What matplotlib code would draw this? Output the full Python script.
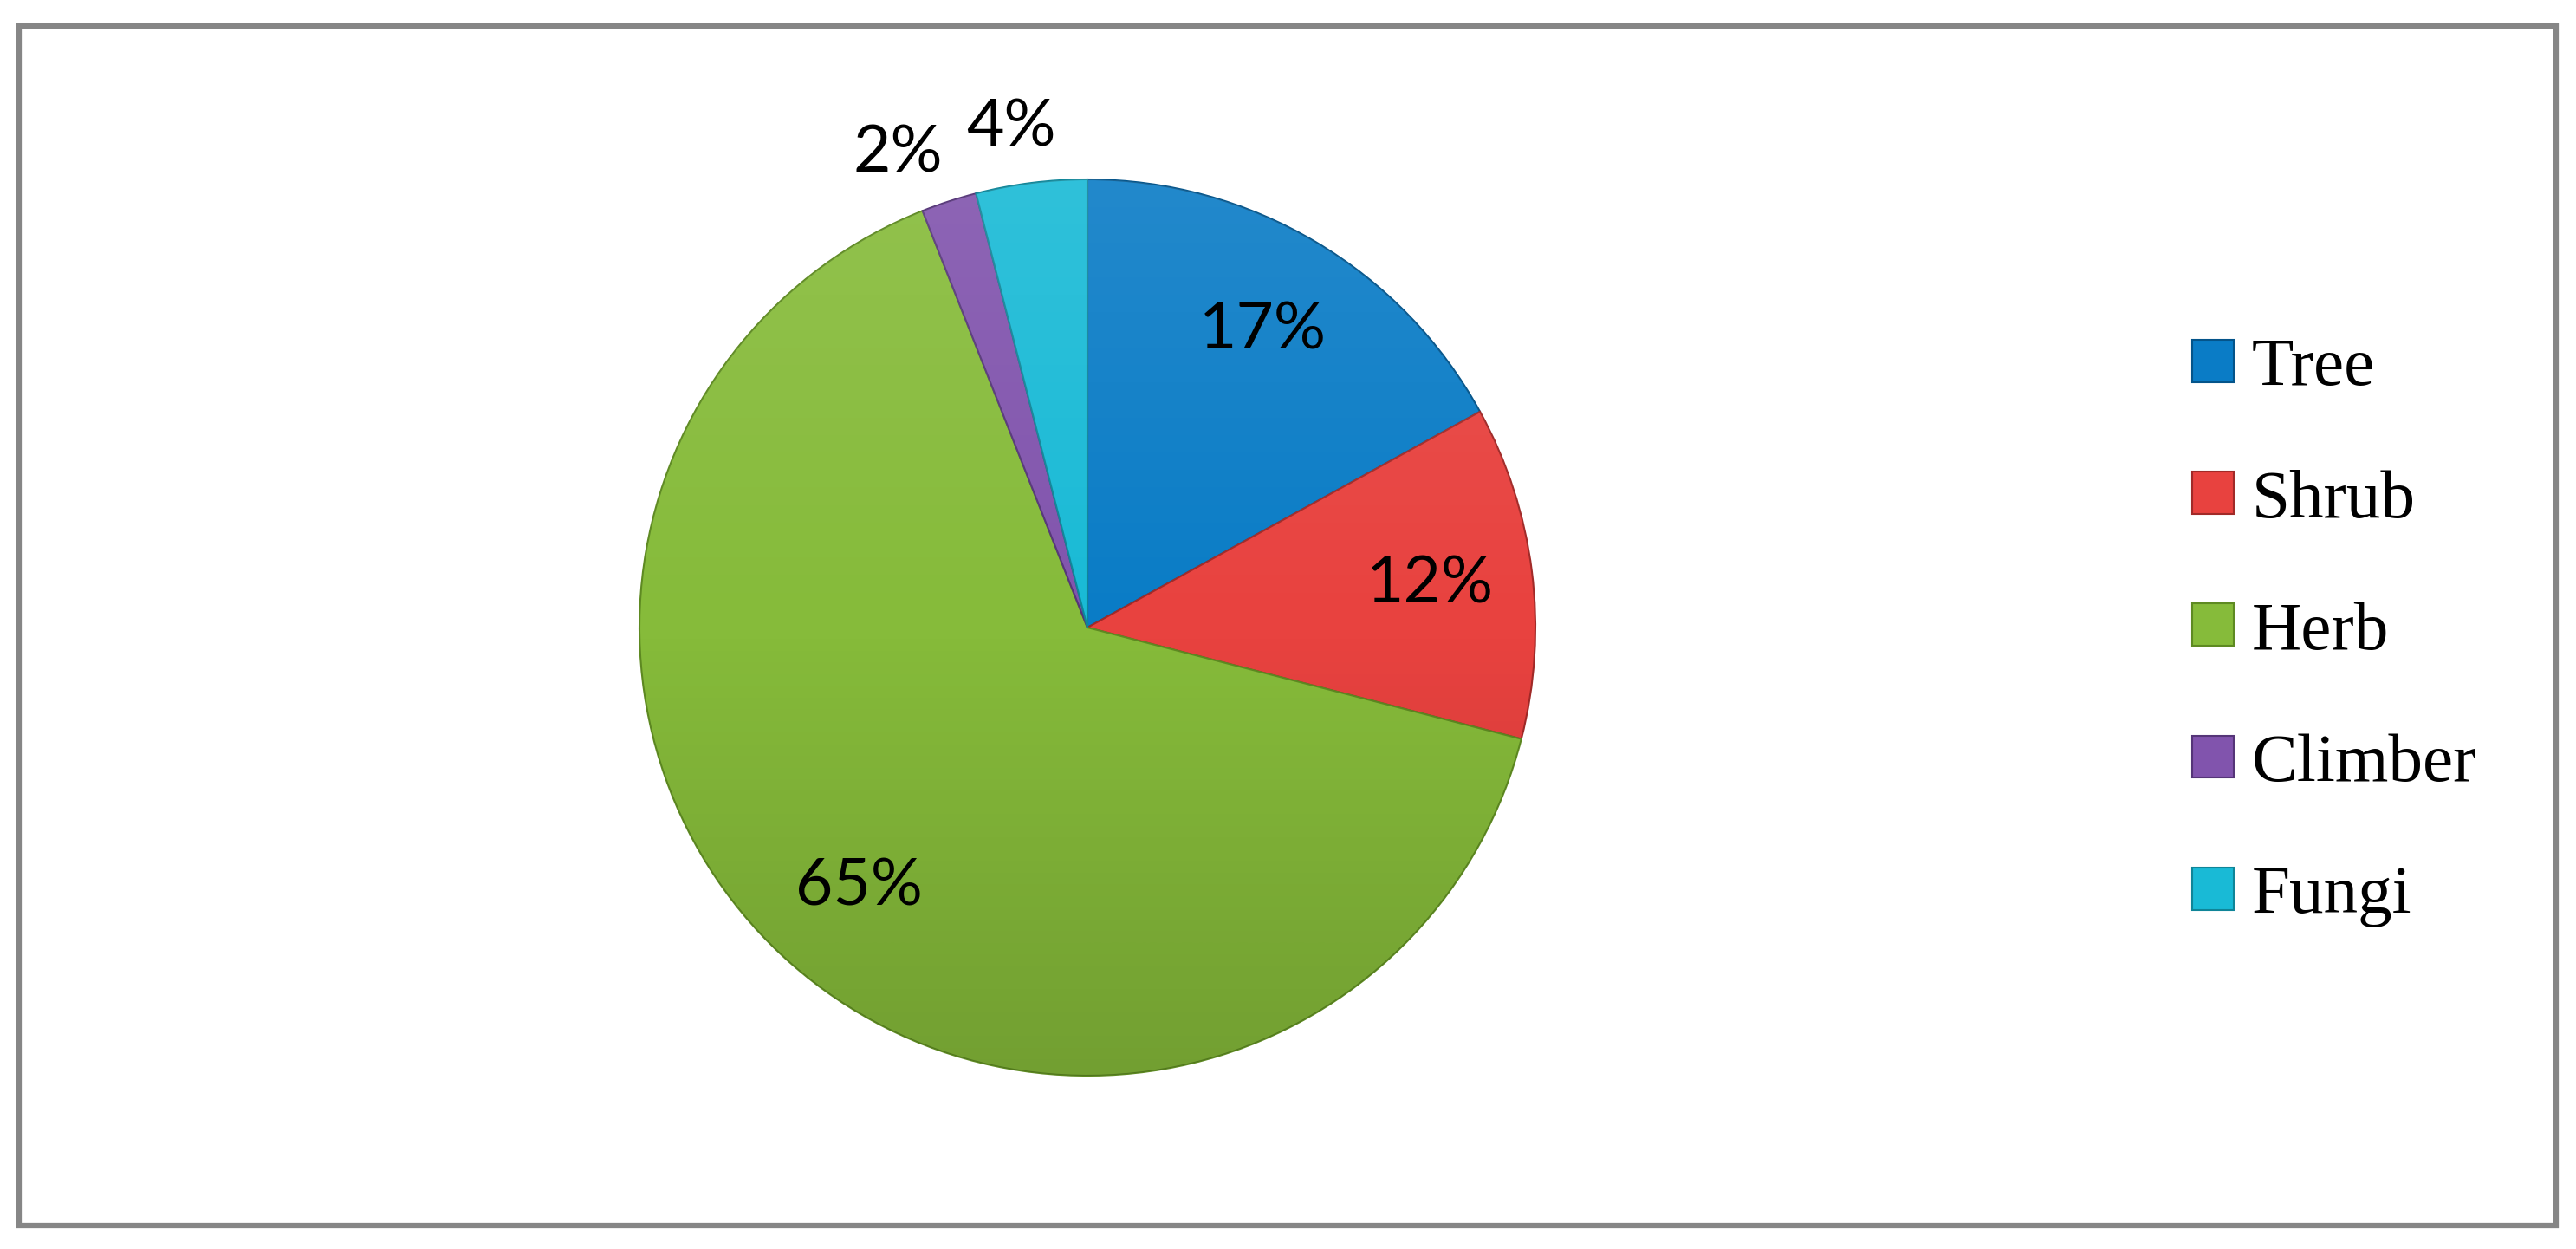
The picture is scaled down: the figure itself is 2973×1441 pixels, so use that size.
import matplotlib
matplotlib.use("Agg")
import matplotlib.pyplot as plt
from matplotlib.patches import Rectangle, Circle
import numpy as np

categorias = ["Tree", "Shrub", "Herb", "Climber", "Fungi"]
porcentajes = [17, 12, 65, 2, 4]
colores = ["#0a7cc6", "#e8423f", "#86bb3a", "#8154ad", "#19bad6"]
bordes = ["#04548a", "#a12a28", "#5e8a22", "#553578", "#0f8598"]

W, H = 2973, 1441
fig = plt.figure(figsize=(W / 100, H / 100), dpi=100)

# marco gris alrededor de todo
marco = Rectangle((21.5 / W, (H - 1414) / H), (2950 - 21.5) / W, (1414 - 29.5) / H,
                  transform=fig.transFigure, fill=False, edgecolor="#868686", linewidth=4.5)
fig.patches.append(marco)

cx, cy, r = 1255, 724, 517
ax = fig.add_axes([(cx - r) / W, (H - cy - r) / H, 2 * r / W, 2 * r / H])

cunas, textos, autotextos = ax.pie(porcentajes, colors=colores, startangle=90, counterclock=False,
                                   autopct="%1.0f%%", pctdistance=0.77, radius=1,
                                   wedgeprops=dict(linewidth=1.5),
                                   textprops=dict(fontsize=54, family=["Lato", "DejaVu Sans"], color="black"))
for c, b in zip(cunas, bordes):
    c.set_edgecolor(b)

# sombreado: un poco mas claro arriba, mas oscuro abajo
n = 256
grad = np.zeros((n, 1, 4))
t = np.linspace(0, 1, n)
grad[:, 0, :3] = (t < 0.5)[:, None] * 1.0
grad[:, 0, 3] = np.where(t < 0.5, (0.5 - t) * 0.2, (t - 0.5) * 0.3)
img = ax.imshow(grad, extent=(-1, 1, -1, 1), aspect="auto", zorder=3, interpolation="bilinear")
img.set_clip_path(Circle((0, 0), 1, transform=ax.transData))
for txt in autotextos:
    txt.set_zorder(5)

# los porcentajes chicos van afuera (radio, corrimiento en grados)
afuera = {3: (1.14, 3.8), 4: (1.13, 1.5)}
for i, (c, txt) in enumerate(zip(cunas, autotextos)):
    if i in afuera:
        rr, da = afuera[i]
        ang = np.deg2rad((c.theta1 + c.theta2) / 2 + da)
        txt.set_position((rr * np.cos(ang), rr * np.sin(ang)))

ax.set_xlim(-1, 1)
ax.set_ylim(-1, 1)
ax.set_aspect("equal")
ax.axis("off")

fig.legend(cunas, categorias, loc="center left", bbox_to_anchor=(2530 / W, 1 - 730 / H),
           frameon=False, prop=dict(family="Liberation Serif", size=57), borderpad=0, borderaxespad=0,
           handlelength=0.6, handleheight=0.57, handletextpad=0.27, labelspacing=1.02)

fig.savefig("out.png", dpi=100, facecolor="white")
